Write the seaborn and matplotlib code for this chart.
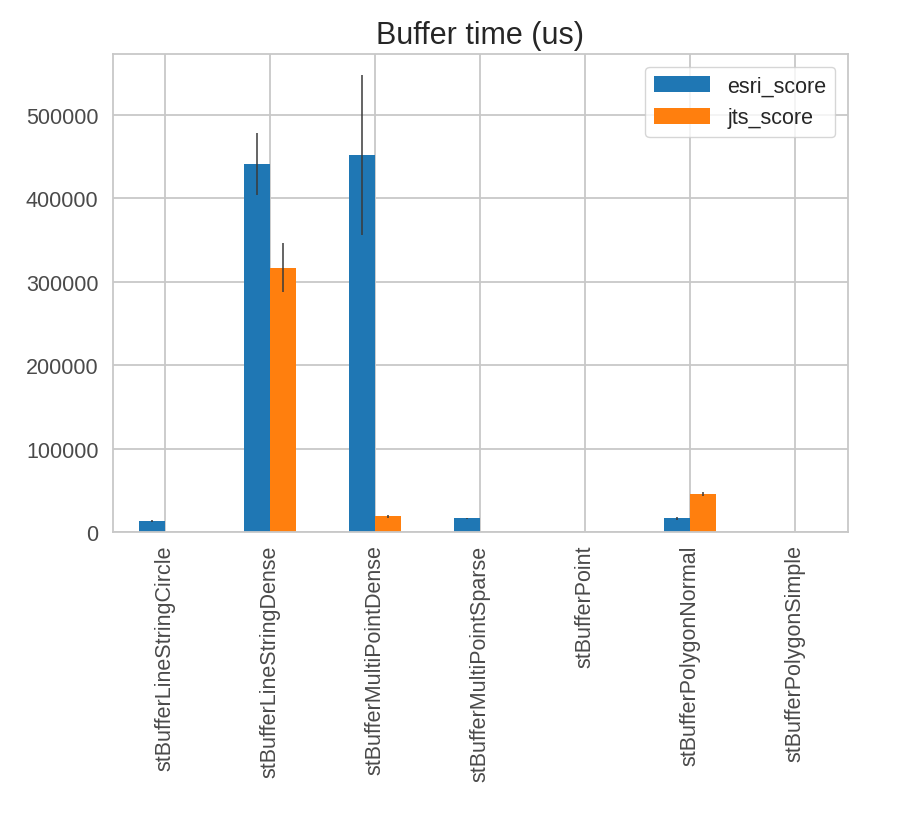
import matplotlib as mpl
mpl.use('Agg')
import matplotlib.pyplot as plt
import numpy as np
import pandas as pd
import seaborn as sns

benchmarks = ['stBufferLineStringCircle', 'stBufferLineStringDense',
              'stBufferMultiPointDense', 'stBufferMultiPointSparse',
              'stBufferPoint', 'stBufferPolygonNormal', 'stBufferPolygonSimple']
esri_score = [13500, 441000, 452000, 16400, 150, 16400, 250]
jts_score = [300, 317000, 18800, 400, 60, 45600, 120]
esri_err = [1200, 37000, 96000, 600, 20, 1500, 30]
jts_err = [40, 29000, 1800, 50, 10, 2500, 20]
series = ['esri_score', 'jts_score']

sns.set_theme(style='whitegrid')
plt.rcParams['font.family'] = ['Liberation Sans', 'DejaVu Sans']

df = pd.DataFrame({
    'benchmark': benchmarks * 2,
    'score': esri_score + jts_score,
    'series': [series[0]] * len(benchmarks) + [series[1]] * len(benchmarks),
})

fig, ax = plt.subplots(figsize=(9, 8.2), dpi=100)
sns.barplot(data=df, x='benchmark', y='score', hue='series',
            palette=['#1f77b4', '#ff7f0e'], saturation=1, width=0.5,
            errorbar=None, linewidth=0, ax=ax)

# error bars on top of each bar, from the bar containers
for cont, errs in zip(ax.containers, [esri_err, jts_err]):
    xs = [p.get_x() + p.get_width() / 2 for p in cont.patches]
    hs = [p.get_height() for p in cont.patches]
    ax.errorbar(xs, hs, yerr=errs, fmt='none', ecolor='#3a3a3a',
                elinewidth=1.1, capsize=0)

ax.set_xlim(-0.5, len(benchmarks) - 0.5)
ax.set_ylim(0, 573000)
ax.set_yticks(np.arange(0, 500001, 100000))
ax.set_title('Buffer time (us)', fontsize=22, pad=8)
ax.set_xlabel('')
ax.set_ylabel('')
ax.tick_params(axis='x', labelsize=15.5, rotation=90, colors='#4a4a4a', pad=3)
ax.tick_params(axis='y', labelsize=15.5, colors='#4a4a4a', pad=4)
ax.grid(True, axis='both', color='#c8c8c8', linewidth=1.3)
for s in ax.spines.values():
    s.set_color('#c8c8c8')
    s.set_linewidth(1.3)
ax.set_axisbelow(True)
ax.legend(title=None, loc='upper right', frameon=True, fontsize=15.5,
          handlelength=2.6, handleheight=0.8, borderaxespad=0.6)

fig.subplots_adjust(left=0.125, right=0.942, top=0.933, bottom=0.35)
fig.savefig('out.png', dpi=100)
